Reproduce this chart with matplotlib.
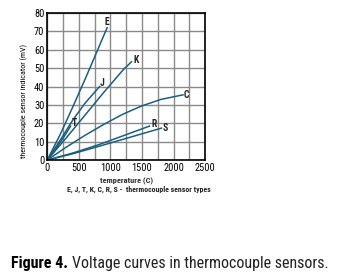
import matplotlib
matplotlib.use("Agg")
import matplotlib.pyplot as plt

# curves: temperature (C) -> mV
e_t = [0, 200, 400, 600, 800, 880, 950]
e_v = [0, 13.5, 28.5, 44, 60, 66.5, 72]
j_t = [0, 200, 400, 600, 830]
j_v = [0, 10.5, 21.5, 31, 40]
k_t = [0, 300, 600, 900, 1200, 1335]
k_v = [0, 12, 24.5, 37, 49, 53.5]
t_t = [0, 100, 200, 300, 370]
t_v = [0, 4.3, 9.3, 14.5, 18.5]
c_t = [0, 300, 600, 900, 1200, 1500, 1800, 2150]
c_v = [0, 7, 13.5, 19.5, 25, 29.5, 33, 35.5]
r_t = [0, 400, 800, 1200, 1620]
r_v = [0, 3.8, 8.2, 13.2, 18.5]
s_t = [0, 400, 800, 1200, 1810]
s_v = [0, 3.4, 7.3, 11.3, 17.4]

curves = [
    ("E", e_t, e_v, (943, 75.3)),
    ("J", j_t, j_v, (868, 42.2)),
    ("K", k_t, k_v, (1414, 54.2)),
    ("T", t_t, t_v, (434, 20.4)),
    ("C", c_t, c_v, (2209, 35.6)),
    ("R", r_t, r_v, (1690, 19.6)),
    ("S", s_t, s_v, (1875, 17.2)),
]

plt.rcParams['font.family'] = ['Liberation Sans Narrow', 'Roboto Condensed', 'Roboto', 'DejaVu Sans']

fig = plt.figure(figsize=(3.63, 2.77), dpi=100)
ax = fig.add_axes([0.13, 0.422, 0.435, 0.531])

line_col = "#1b5f80"
for name, xs, ys, pos in curves:
    ax.plot(xs, ys, color=line_col, lw=1.1)
    ax.text(pos[0], pos[1], name, fontsize=7, fontweight="bold",
            ha="center", va="center", color="#222222")

ax.set_xlim(0, 2500)
ax.set_ylim(0, 80)
ax.set_xticks(range(0, 2501, 500))
ax.set_xticks(range(0, 2501, 250), minor=True)
ax.set_yticks(range(0, 81, 10))
ax.grid(True, which="both", color="#8a8a8a", lw=1.0)
ax.set_axisbelow(True)
ax.tick_params(axis="both", which="both", length=0, labelsize=7.5, pad=2)
for sp in ax.spines.values():
    sp.set_linewidth(1.2)
    sp.set_color("black")

ax.set_ylabel("thermocouple sensor indicator (mV)", fontsize=5.8, labelpad=3)
ax.yaxis.set_label_coords(-0.12, 0.4)
ax.set_xlabel("temperature (C)", fontsize=6, labelpad=3, fontweight="bold", color="#333333")
fig.text(0.185, 0.315, "E, J, T, K, C, R, S -  thermocouple sensor types",
         fontsize=5.6, fontweight="bold", va="center", color="#222222")

cap1 = fig.text(0.03, 0.047, "Figure 4.", fontsize=11.5, fontweight="bold", va="center")
fig.canvas.draw()
bb = cap1.get_window_extent(renderer=fig.canvas.get_renderer())
x2 = (bb.x1 + 4) / fig.bbox.width
fig.text(x2, 0.047, "Voltage curves in thermocouple sensors.",
         fontsize=11.5, va="center", color="#222222")

fig.savefig("out.png", dpi=100)
